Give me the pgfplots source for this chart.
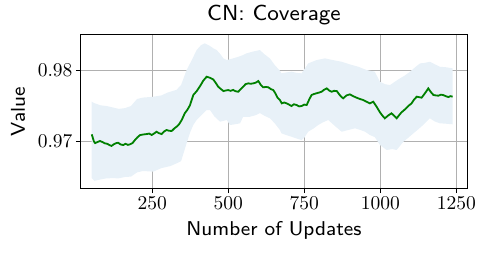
\documentclass[border=0pt]{standalone}
\usepackage{fontspec}
\usepackage{pgfplots}
\pgfplotsset{compat=1.18}
\usepgfplotslibrary{fillbetween}
\newfontfamily\lmsseight{lmsans8-regular.otf}
\newfontfamily\lmrten{lmroman10-regular.otf}
\definecolor{bandblue}{RGB}{232,241,248}
\definecolor{gridgray}{RGB}{176,176,176}
\definecolor{mplgreen}{RGB}{0,128,0}
\begin{document}
\begin{tikzpicture}
\begin{axis}[
  at={(0,0)}, anchor=south west,
  scale only axis, width=387pt, height=154.2pt,
  xmin=14, xmax=1287, ymin=0.96329, ymax=0.98513,
  xtick={250,500,750,1000,1250},
  ytick={0.97,0.98},
  scaled y ticks=false,
  /pgf/number format/.cd, fixed, precision=2, 1000 sep={}, assume math mode=true,
  /pgfplots/.cd,
  grid=major,
  major grid style={color=gridgray, line width=0.8pt},
  tick align=outside, major tick length=4.5pt,
  tick style={black, line width=0.8pt},
  xtick pos=bottom, ytick pos=left,
  axis line style={line width=0.8pt},
  tick label style={font=\lmrten\fontsize{19.5}{21}\selectfont},
  title={CN: Coverage},
  title style={at={(0.5,1)}, anchor=base, yshift=7.5pt, font=\lmsseight\fontsize{21.8}{24}\selectfont},
  xlabel={Number of Updates},
  xlabel style={at={(0.5,0)}, anchor=base, yshift=-46.3pt, font=\lmsseight\fontsize{20}{22}\selectfont},
  ylabel={Value},
  ylabel style={at={(0,0.5)}, anchor=base, yshift=55.5pt, font=\lmsseight\fontsize{20}{22}\selectfont},
]
\addplot[name path=up, draw=none, forget plot] coordinates {
(51,0.97561)(60,0.97540)(80,0.97510)(100,0.97500)(120,0.97480)(140,0.97460)(160,0.97470)(180,0.97500)(200,0.97600)(220,0.97620)(250,0.97630)(280,0.97650)(300,0.97690)(330,0.97730)(345,0.97800)(363,0.98010)(380,0.98150)(396,0.98293)(410,0.98360)(423,0.98388)(440,0.98350)(451,0.98317)(462,0.98293)(475,0.98230)(484,0.98175)(495,0.98151)(516,0.98175)(535,0.98200)(549,0.98222)(560,0.98246)(580,0.98270)(604,0.98293)(620,0.98230)(637,0.98175)(653,0.98080)(670,0.98000)(675,0.97963)(690,0.97975)(708,0.97986)(725,0.97970)(741,0.97963)(755,0.98050)(763,0.98104)(790,0.98150)(818,0.98175)(845,0.98150)(873,0.98127)(900,0.98090)(928,0.98056)(955,0.98010)(982,0.97986)(999,0.97844)(1015,0.97810)(1032,0.97797)(1050,0.97850)(1065,0.97892)(1080,0.97930)(1098,0.97986)(1115,0.98050)(1131,0.98104)(1145,0.98110)(1163,0.98127)(1180,0.98090)(1196,0.98056)(1215,0.98050)(1238,0.98034)
};
\addplot[name path=lo, draw=none, forget plot] coordinates {
(51,0.96480)(60,0.96440)(80,0.96460)(100,0.96476)(120,0.96478)(140,0.96476)(160,0.96495)(180,0.96500)(200,0.96560)(220,0.96580)(253,0.96570)(280,0.96620)(310,0.96650)(330,0.96688)(345,0.96720)(363,0.96972)(375,0.97130)(385,0.97231)(396,0.97302)(418,0.97397)(429,0.97443)(440,0.97443)(455,0.97350)(473,0.97278)(495,0.97302)(506,0.97231)(520,0.97240)(539,0.97255)(549,0.97348)(571,0.97348)(590,0.97370)(604,0.97400)(620,0.97360)(637,0.97326)(653,0.97255)(670,0.97160)(675,0.97113)(690,0.97090)(708,0.97065)(725,0.97040)(741,0.97018)(750,0.97050)(763,0.97136)(780,0.97180)(796,0.97231)(812,0.97270)(829,0.97302)(850,0.97220)(873,0.97136)(895,0.97160)(917,0.97184)(935,0.97160)(950,0.97136)(966,0.97089)(982,0.97060)(999,0.96948)(1021,0.96877)(1040,0.96890)(1054,0.96877)(1076,0.96994)(1092,0.97050)(1109,0.97113)(1125,0.97170)(1141,0.97231)(1163,0.97326)(1180,0.97280)(1196,0.97255)(1215,0.97250)(1238,0.97241)
};
\addplot[fill=bandblue, draw=none, forget plot] fill between[of=up and lo];
\addplot[mplgreen, line width=1.8pt] coordinates {
(51,0.97099)(58,0.97000)(62,0.96975)(70,0.96990)(78,0.97005)(86,0.96990)(94,0.96972)(102,0.96965)(110,0.96945)(116,0.96935)(124,0.96960)(132,0.96975)(138,0.96980)(146,0.96955)(155,0.96948)(162,0.96965)(170,0.96950)(177,0.96958)(185,0.96975)(193,0.97018)(202,0.97060)(210,0.97089)(218,0.97095)(226,0.97100)(232,0.97103)(240,0.97110)(248,0.97090)(256,0.97110)(264,0.97136)(272,0.97115)(281,0.97103)(289,0.97140)(297,0.97160)(305,0.97150)(314,0.97146)(322,0.97180)(330,0.97207)(338,0.97240)(347,0.97302)(357,0.97397)(366,0.97450)(374,0.97510)(385,0.97656)(396,0.97710)(407,0.97780)(418,0.97860)(429,0.97915)(440,0.97900)(451,0.97875)(460,0.97820)(467,0.97773)(476,0.97740)(484,0.97712)(492,0.97720)(500,0.97726)(508,0.97715)(516,0.97728)(524,0.97710)(533,0.97702)(541,0.97740)(549,0.97773)(557,0.97810)(566,0.97821)(574,0.97815)(582,0.97821)(590,0.97830)(599,0.97854)(607,0.97800)(615,0.97765)(624,0.97770)(632,0.97765)(640,0.97740)(648,0.97726)(655,0.97680)(662,0.97620)(670,0.97585)(676,0.97538)(684,0.97550)(692,0.97538)(700,0.97520)(708,0.97500)(716,0.97525)(725,0.97514)(733,0.97495)(741,0.97500)(750,0.97520)(758,0.97514)(766,0.97590)(774,0.97656)(782,0.97670)(790,0.97680)(798,0.97690)(807,0.97702)(815,0.97730)(824,0.97750)(832,0.97720)(840,0.97702)(848,0.97715)(857,0.97712)(866,0.97660)(872,0.97630)(878,0.97609)(889,0.97650)(900,0.97665)(911,0.97640)(922,0.97618)(933,0.97600)(944,0.97585)(955,0.97560)(966,0.97538)(977,0.97561)(988,0.97490)(999,0.97411)(1008,0.97360)(1015,0.97326)(1026,0.97365)(1037,0.97397)(1046,0.97360)(1054,0.97326)(1062,0.97370)(1070,0.97411)(1078,0.97440)(1087,0.97476)(1095,0.97510)(1103,0.97538)(1111,0.97590)(1120,0.97632)(1128,0.97625)(1136,0.97618)(1147,0.97680)(1158,0.97750)(1166,0.97700)(1175,0.97656)(1183,0.97650)(1191,0.97646)(1199,0.97660)(1207,0.97656)(1215,0.97640)(1224,0.97627)(1231,0.97640)(1238,0.97632)
};
\end{axis}
\pgfresetboundingbox
\path[use as bounding box] (-80.5pt,-63.3pt) rectangle (403.5pt,188.7pt);
\end{tikzpicture}
\end{document}
